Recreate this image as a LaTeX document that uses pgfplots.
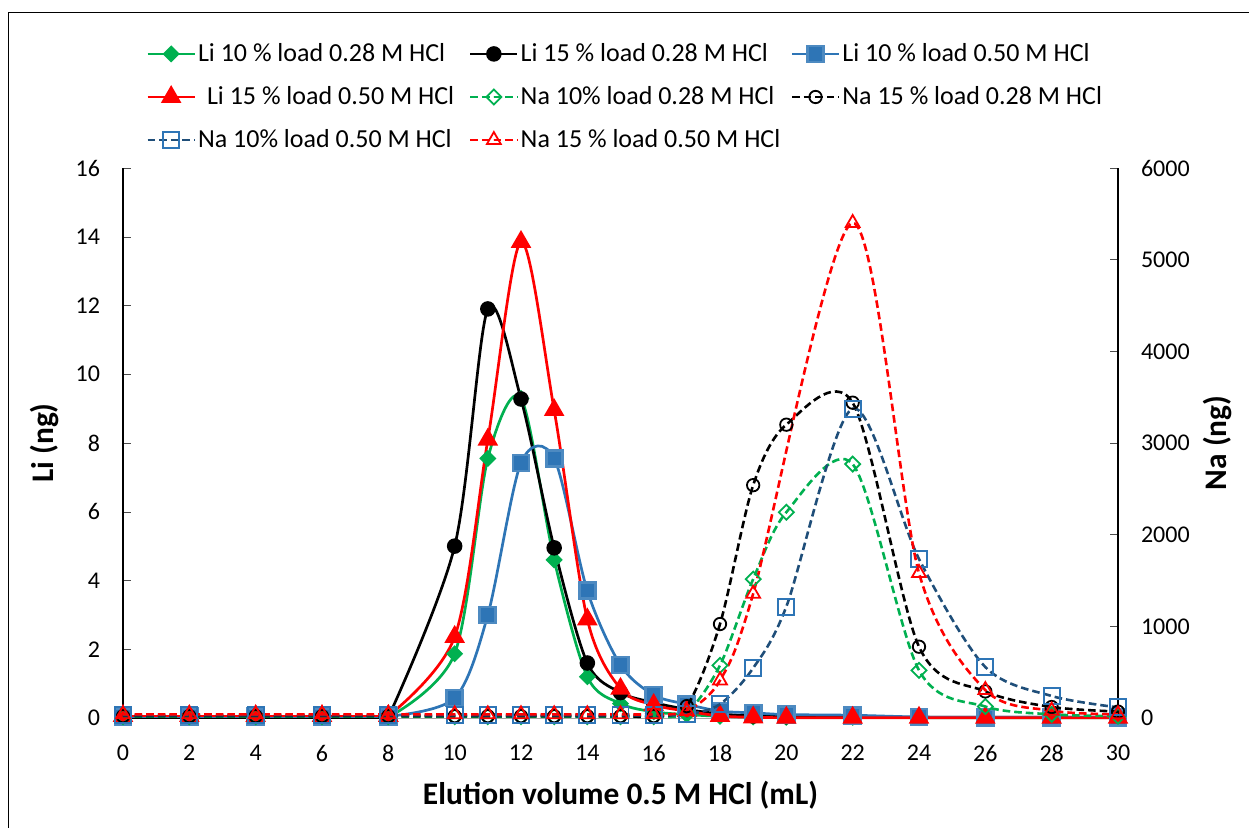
\documentclass[border=0pt]{standalone}
\usepackage{fontspec}
\setmainfont{Carlito}
\usepackage{pgfplots}
\pgfplotsset{compat=1.18}

\definecolor{cgreen}{HTML}{00B050}
\definecolor{cblue}{HTML}{2E75B6}
\definecolor{cnavy}{HTML}{1F4E79}
\definecolor{cred}{HTML}{FF0000}

\newcommand{\LEa}[1]{\makebox[134.5pt][l]{#1}}
\newcommand{\LEb}[1]{\makebox[134pt][l]{#1}}

% Li (ng), left axis
\pgfplotstableread{
x    g28   k28   b50   r50
0    0.02  0.02  0.05  0.06
2    0.02  0.02  0.05  0.06
4    0.02  0.02  0.05  0.06
6    0.02  0.02  0.05  0.06
8    0.02  0.02  0.05  0.06
10   1.87  5.00  0.58  2.36
11   7.55  11.90 3.00  8.10
12   9.30  9.28  7.42  13.85
13   4.60  4.95  7.55  8.96
14   1.20  1.60  3.70  2.87
15   0.42  0.74  1.54  0.85
16   0.18  0.45  0.67  0.38
17   0.10  0.25  0.40  0.20
18   0.05  0.12  0.20  0.06
19   0.03  0.06  0.15  0.02
20   0.02  0.04  0.10  0.01
22   0.02  0.03  0.08  0.01
24   0.01  0.02  0.03  0.01
26   0.01  0.02  0.02  0.01
28   0.01  0.02  0.02  0.01
30   0.01  0.02  0.02  0.01
}\litable

% Na (ng), right axis
\pgfplotstableread{
x    g28   k28   b50
0    15    20    30
2    15    20    30
4    15    20    30
6    15    20    30
8    15    20    30
10   15    20    30
11   15    20    30
12   15    20    30
13   15    20    30
14   15    20    30
15   15    20    30
16   15    20    30
17   60    130   40
18   575   1025  150
19   1515  2540  545
20   2245  3200  1215
22   2770  3440  3375
24   520   778   1735
26   125   290   556
28   40    120   240
30   20    70    116
}\natable

\pgfplotstableread{
x    r50
0    40
2    40
4    40
6    40
8    40
10   40
11   40
12   40
13   40
14   40
15   40
16   40
17   76
18   410
19   1355
22   5400
24   1582
26   305
28   80
30   40
}\naredtable

\pgfplotsset{
  common/.style={
    scale only axis, width=497.5pt, height=275pt,
    xmin=0, xmax=30, clip=false,
    tick align=inside, major tick length=4pt,
    tick label style={font=\fontsize{12}{14}\selectfont},
    /pgf/number format/assume math mode=true,
    /pgf/number format/1000 sep={},
  },
  lisolid/.style={line width=1.35pt},
  nadash/.style={line width=1.3pt, smooth, dash pattern=on 3.8pt off 2pt},
  sLiA/.style={lisolid, cgreen, mark=square*, mark size=2.35pt, mark options={solid, rotate=45, fill=cgreen}},
  sLiB/.style={lisolid, black, mark=*, mark size=3.2pt, mark options={solid, fill=black}},
  sLiC/.style={lisolid, cblue, mark=square*, mark size=4pt, mark options={solid, fill=cblue, draw=cblue!85!white}},
  sLiD/.style={lisolid, cred, mark=triangle*, mark size=4.6pt, mark options={solid, fill=cred}},
  sNaA/.style={nadash, cgreen, mark=square, mark size=2.65pt, mark options={solid, rotate=45, draw=cgreen, fill=white, line width=0.9pt}},
  sNaB/.style={nadash, black, mark=o, mark size=3.1pt, mark options={solid, draw=black, fill=white, line width=0.9pt}},
  sNaC/.style={nadash, cnavy, mark=square, mark size=4pt, mark options={solid, draw=cblue, fill=white, line width=0.9pt}},
  sNaD/.style={nadash, cred, mark=triangle, mark size=4pt, mark options={solid, draw=cred, fill=white, line width=0.9pt}},
  legend image code/.code={
    \draw[mark repeat=2, mark phase=2] plot coordinates {(0pt,0pt) (11.75pt,0pt) (23.5pt,0pt)};
  },
}

\begin{document}
\begin{tikzpicture}
\useasboundingbox (-61.5pt,-54.5pt) rectangle (563pt,359pt);
\draw[black, line width=0.5pt] (-57pt,-60pt) -- (-57pt,353pt) -- (570pt,353pt);

\begin{axis}[
  common,
  ymin=0, ymax=16,
  xtick={0,2,...,30}, ytick={0,2,...,16},
  axis y line*=left, axis x line*=bottom,
  x axis line style={draw=black!35},
  y axis line style={black, line width=0.6pt},
  xtick style={draw=none}, ytick style={black!70},
  xticklabel style={yshift=-10pt},
  yticklabel style={xshift=-8pt},
  xlabel={Elution volume 0.5 M HCl (mL)},
  ylabel={Li (ng)},
  every axis x label/.style={at={(axis description cs:0.5,-0.14)}, anchor=center,
    font=\fontsize{15.7}{18}\selectfont\bfseries},
  every axis y label/.style={at={(axis description cs:-0.0784,0.5)}, anchor=center, rotate=90,
    font=\fontsize{15.7}{18}\selectfont\bfseries},
]
% baseline part straight, peak part smoothed
\addplot[sLiA, restrict x to domain=0:8] table[x=x, y=g28] {\litable};
\addplot[sLiA, smooth, restrict x to domain=8:30] table[x=x, y=g28] {\litable};
\addplot[sLiB, restrict x to domain=0:8] table[x=x, y=k28] {\litable};
\addplot[sLiB, smooth, restrict x to domain=8:30] table[x=x, y=k28] {\litable};
\addplot[sLiC, restrict x to domain=0:8] table[x=x, y=b50] {\litable};
\addplot[sLiC, smooth, restrict x to domain=8:30] table[x=x, y=b50] {\litable};
\addplot[sLiD, restrict x to domain=0:8] table[x=x, y=r50] {\litable};
\addplot[sLiD, smooth, restrict x to domain=8:30] table[x=x, y=r50] {\litable};
\end{axis}

\begin{axis}[
  common,
  ymin=0, ymax=6000,
  ytick={0,1000,...,6000},
  axis x line=none, axis y line*=right,
  y axis line style={black, line width=0.6pt},
  ytick style={black!70},
  yticklabel style={xshift=8pt},
  ylabel={Na (ng)},
  every axis y label/.style={at={(axis description cs:1.1,0.5)}, anchor=center, rotate=90,
    font=\fontsize{15.7}{18}\selectfont\bfseries},
  legend columns=3,
  legend cell align=left,
  legend style={at={(axis description cs:0.017,1.2418)}, anchor=north west,
    draw=none, fill=none, font=\fontsize{13}{15}\selectfont,
    nodes={inner xsep=1pt},
    row sep=7pt, /tikz/every even column/.append style={column sep=0pt}},
]
\addlegendimage{sLiA}
\addlegendentry{\LEa{Li 10 \% load 0.28 M HCl}}
\addlegendimage{sLiB}
\addlegendentry{\LEb{Li 15 \% load 0.28 M HCl}}
\addlegendimage{sLiC}
\addlegendentry{Li 10 \% load 0.50 M HCl}
\addlegendimage{sLiD}
\addlegendentry{\LEa{\hspace{4.5pt}Li 15 \% load 0.50 M HCl}}

\addplot[sNaA] table[x=x, y=g28] {\natable};
\addlegendentry{\LEb{Na 10\% load 0.28 M HCl}}
\addplot[sNaB] table[x=x, y=k28] {\natable};
\addlegendentry{Na 15 \% load 0.28 M HCl}
\addplot[sNaC] table[x=x, y=b50] {\natable};
\addlegendentry{\LEa{Na 10\% load 0.50 M HCl}}
\addplot[sNaD] table[x=x, y=r50] {\naredtable};
\addlegendentry{\LEb{Na 15 \% load 0.50 M HCl}}
\end{axis}
\end{tikzpicture}
\end{document}
